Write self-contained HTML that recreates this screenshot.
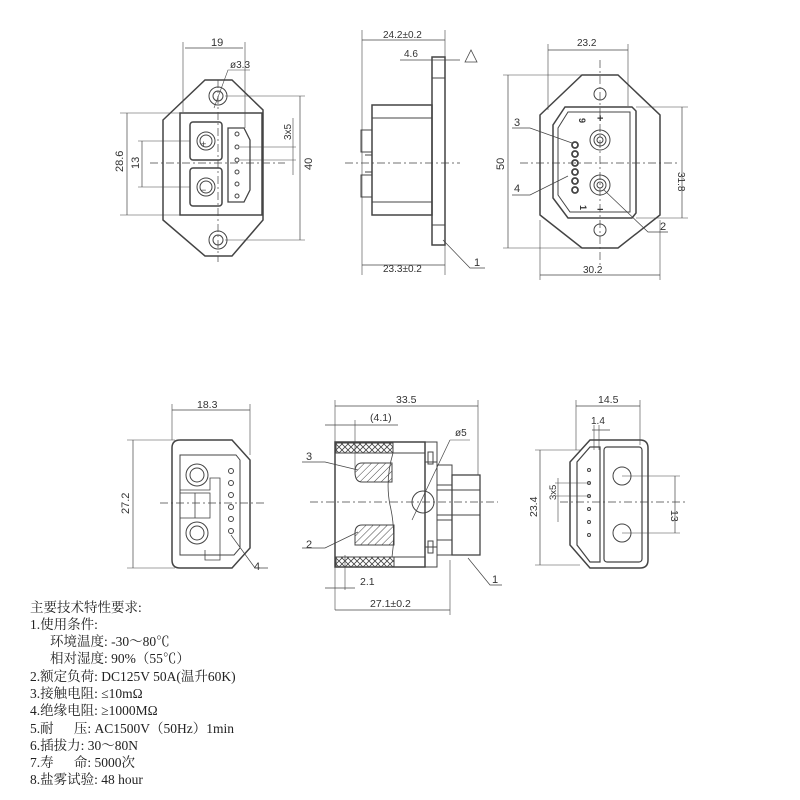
<!DOCTYPE html>
<html><head><meta charset="utf-8"><style>
html,body{margin:0;padding:0;background:#fff;}
svg{display:block}
.t{font-family:"Liberation Sans","DejaVu Sans",sans-serif;font-size:11px;fill:#333}
.c{font-family:"Liberation Serif","Noto Serif CJK SC",serif;font-size:13.5px;fill:#222;white-space:pre}
</style></head><body>
<svg width="800" height="800" viewBox="0 0 800 800" xmlns="http://www.w3.org/2000/svg">
<defs>
<pattern id="h" width="5" height="5" patternUnits="userSpaceOnUse" patternTransform="rotate(45)"><line x1="0" y1="0" x2="0" y2="5" stroke="#444" stroke-width="1"/></pattern>
<pattern id="x" width="6" height="6" patternUnits="userSpaceOnUse"><path d="M0 0L6 6M6 0L0 6" stroke="#444" stroke-width="0.8"/></pattern>
<marker id="a" markerWidth="6" markerHeight="6" refX="5" refY="3" orient="auto"><path d="M0 1.5L6 3L0 4.5z" fill="#444"/></marker>
</defs>
<g stroke="#444" stroke-width="1" fill="none">
<path d="M163 120 L205 80 L232 80 L263 110 L263 220 L232 256 L205 256 L163 220 Z" stroke-width="1.5"/>
<circle cx="218" cy="96" r="9"/><circle cx="218" cy="96" r="5"/>
<circle cx="218" cy="240" r="9"/><circle cx="218" cy="240" r="5"/>
<rect x="180" y="113" width="82" height="102" stroke-width="1.5"/>
<rect x="190" y="122" width="32" height="38" rx="3" stroke-width="1.5"/>
<rect x="190" y="168" width="32" height="38" rx="3" stroke-width="1.5"/>
<circle cx="206" cy="141" r="9"/><circle cx="206" cy="141" r="6"/>
<circle cx="206" cy="187" r="9"/><circle cx="206" cy="187" r="6"/>
<path d="M228 128 L244 128 L250 140 L250 190 L244 202 L228 202 Z" stroke-width="1.3"/>
<g><circle cx="237" cy="134" r="2"/><circle cx="237" cy="147" r="2"/><circle cx="237" cy="160" r="2"/><circle cx="237" cy="172" r="2"/><circle cx="237" cy="184" r="2"/><circle cx="237" cy="196" r="2"/></g>
<line x1="150" y1="163" x2="285" y2="163" stroke-dasharray="8 3 2 3" stroke-width="0.7"/>
<line x1="218" y1="80" x2="218" y2="262" stroke-dasharray="8 3 2 3" stroke-width="0.7"/>
<line x1="183" y1="42" x2="183" y2="112" stroke-width="0.6"/><line x1="245" y1="42" x2="245" y2="128" stroke-width="0.6"/>
<line x1="185" y1="48" x2="243" y2="48" stroke-width="0.7"/>
<line x1="127" y1="113" x2="127" y2="215" stroke-width="0.7"/>
<line x1="120" y1="113" x2="180" y2="113" stroke-width="0.6"/><line x1="120" y1="215" x2="180" y2="215" stroke-width="0.6"/>
<line x1="142" y1="141" x2="142" y2="187" stroke-width="0.7"/>
<line x1="138" y1="141" x2="190" y2="141" stroke-width="0.6"/><line x1="138" y1="187" x2="190" y2="187" stroke-width="0.6"/>
<line x1="300" y1="96" x2="300" y2="240" stroke-width="0.7"/>
<line x1="225" y1="96" x2="305" y2="96" stroke-width="0.6"/><line x1="225" y1="240" x2="305" y2="240" stroke-width="0.6"/>
<line x1="293" y1="118" x2="293" y2="175" stroke-width="0.6"/>
<line x1="240" y1="147" x2="296" y2="147" stroke-width="0.6"/><line x1="240" y1="160" x2="296" y2="160" stroke-width="0.6"/>
<path d="M214 108 L228 70 L250 70" stroke-width="0.6"/>
<rect x="432" y="57" width="13" height="188" stroke-width="1.5"/>
<line x1="432" y1="78" x2="445" y2="78"/><line x1="432" y1="225" x2="445" y2="225"/>
<rect x="372" y="105" width="60" height="110" stroke-width="1.5"/>
<line x1="372" y1="118" x2="432" y2="118"/><line x1="372" y1="202" x2="432" y2="202"/>
<rect x="361" y="130" width="11" height="22"/><rect x="361" y="175" width="11" height="22"/>
<line x1="365" y1="155" x2="372" y2="155"/><line x1="365" y1="172" x2="372" y2="172"/>
<line x1="345" y1="163" x2="460" y2="163" stroke-dasharray="8 3 2 3" stroke-width="0.7"/>
<line x1="362" y1="30" x2="362" y2="275" stroke-width="0.6"/><line x1="445" y1="30" x2="445" y2="275" stroke-width="0.6"/>
<line x1="362" y1="40" x2="445" y2="40" stroke-width="0.7"/>
<line x1="400" y1="60" x2="460" y2="60" stroke-width="0.7"/>
<line x1="362" y1="265" x2="445" y2="265" stroke-width="0.7"/>
<path d="M443 240 L470 268 L485 268" stroke-width="0.7"/>
<path d="M465 62 L471 50 L477 62 Z" stroke-width="0.8"/>
<path d="M540 115 L582 75 L618 75 L660 115 L660 215 L618 248 L582 248 L540 215 Z" stroke-width="1.5"/>
<circle cx="600" cy="94" r="6"/><circle cx="600" cy="230" r="6"/>
<path d="M565 107 L632 107 L636 111 L636 213 L632 218 L568 218 L553 198 L553 125 Z" stroke-width="1.5"/>
<path d="M568 112 L630 112 L630 212 L570 212 L558 195 L558 128 Z"/>
<circle cx="600" cy="140" r="10"/><circle cx="600" cy="140" r="6"/><circle cx="600" cy="140" r="3"/>
<circle cx="600" cy="185" r="10"/><circle cx="600" cy="185" r="6"/><circle cx="600" cy="185" r="3"/>
<g stroke-width="1.8"><circle cx="575" cy="145" r="3"/><circle cx="575" cy="154" r="3"/><circle cx="575" cy="163" r="3"/><circle cx="575" cy="172" r="3"/><circle cx="575" cy="181" r="3"/><circle cx="575" cy="190" r="3"/></g>
<line x1="520" y1="163" x2="680" y2="163" stroke-dasharray="8 3 2 3" stroke-width="0.7"/>
<line x1="600" y1="60" x2="600" y2="265" stroke-dasharray="8 3 2 3" stroke-width="0.7"/>
<line x1="548" y1="50" x2="628" y2="50" stroke-width="0.7"/>
<line x1="548" y1="44" x2="548" y2="110" stroke-width="0.6"/><line x1="628" y1="44" x2="628" y2="106" stroke-width="0.6"/>
<line x1="508" y1="75" x2="508" y2="248" stroke-width="0.7"/>
<line x1="503" y1="75" x2="590" y2="75" stroke-width="0.6"/><line x1="503" y1="248" x2="590" y2="248" stroke-width="0.6"/>
<line x1="682" y1="107" x2="682" y2="218" stroke-width="0.7"/>
<line x1="636" y1="107" x2="688" y2="107" stroke-width="0.6"/><line x1="636" y1="218" x2="688" y2="218" stroke-width="0.6"/>
<line x1="540" y1="275" x2="660" y2="275" stroke-width="0.7"/>
<line x1="540" y1="220" x2="540" y2="280" stroke-width="0.6"/><line x1="660" y1="220" x2="660" y2="280" stroke-width="0.6"/>
<path d="M512 128 L530 128 L572 143" stroke-width="0.7"/>
<path d="M512 195 L530 195 L568 176" stroke-width="0.7"/>
<path d="M604 190 L648 232 L668 232" stroke-width="0.7"/>
<path d="M180 440 L232 440 L250 460 L250 548 L232 568 L180 568 Q172 568 172 560 L172 448 Q172 440 180 440 Z" stroke-width="1.5"/>
<path d="M180 455 L236 455 L240 460 L240 548 L234 555 L180 555 Z"/>
<circle cx="197" cy="475" r="11"/><circle cx="197" cy="475" r="7"/>
<circle cx="197" cy="533" r="11"/><circle cx="197" cy="533" r="7"/>
<path d="M180 490 L210 490 L210 478 L220 478 L220 560 L205 560 L205 550" stroke-width="0.8"/>
<rect x="180" y="493" width="30" height="25" stroke-width="0.8"/><line x1="195" y1="493" x2="195" y2="518" stroke-width="0.8"/>
<g><circle cx="231" cy="471" r="2.5"/><circle cx="231" cy="483" r="2.5"/><circle cx="231" cy="495" r="2.5"/><circle cx="231" cy="507" r="2.5"/><circle cx="231" cy="519" r="2.5"/><circle cx="231" cy="531" r="2.5"/></g>
<line x1="160" y1="503" x2="265" y2="503" stroke-dasharray="8 3 2 3" stroke-width="0.7"/>
<line x1="172" y1="410" x2="250" y2="410" stroke-width="0.7"/>
<line x1="172" y1="404" x2="172" y2="440" stroke-width="0.6"/><line x1="250" y1="404" x2="250" y2="455" stroke-width="0.6"/>
<line x1="133" y1="440" x2="133" y2="568" stroke-width="0.7"/>
<line x1="127" y1="440" x2="175" y2="440" stroke-width="0.6"/><line x1="127" y1="568" x2="175" y2="568" stroke-width="0.6"/>
<path d="M231 535 L255 568 L268 568" stroke-width="0.7"/>
<rect x="335" y="442" width="90" height="125" stroke-width="1.5"/>
<rect x="336" y="443" width="57" height="10" fill="url(#x)"/>
<rect x="336" y="557" width="58" height="10" fill="url(#x)"/>
<line x1="393" y1="453" x2="425" y2="453"/><line x1="393" y1="557" x2="425" y2="557"/>
<path d="M393 453 Q385 480 390 505 Q396 530 392 557" stroke-width="0.8"/>
<path d="M362 463 L392 463 L392 482 L362 482 Q355 482 355 472 Q355 463 362 463 Z" fill="url(#h)"/>
<path d="M362 525 L394 525 L394 545 L355 545 L355 533 Q355 525 362 525 Z" fill="url(#h)"/>
<circle cx="423" cy="502" r="11"/>
<rect x="425" y="442" width="12" height="20"/><rect x="425" y="547" width="12" height="20"/>
<rect x="428" y="452" width="5" height="12"/><rect x="428" y="541" width="5" height="12"/>
<line x1="425" y1="462" x2="425" y2="547"/><line x1="437" y1="462" x2="437" y2="547"/>
<rect x="437" y="465" width="15" height="20"/><rect x="437" y="520" width="15" height="20"/>
<rect x="452" y="475" width="28" height="80" stroke-width="1.3"/>
<line x1="437" y1="490" x2="480" y2="490"/><line x1="437" y1="515" x2="480" y2="515"/>
<line x1="437" y1="555" x2="480" y2="555"/>
<line x1="310" y1="502" x2="498" y2="502" stroke-dasharray="8 3 2 3" stroke-width="0.7"/>
<line x1="335" y1="400" x2="335" y2="610" stroke-width="0.6"/><line x1="478" y1="400" x2="478" y2="475" stroke-width="0.6"/>
<line x1="335" y1="406" x2="478" y2="406" stroke-width="0.7"/>
<line x1="325" y1="425" x2="398" y2="425" stroke-width="0.7"/><line x1="355" y1="420" x2="355" y2="470" stroke-width="0.6"/>
<line x1="412" y1="520" x2="450" y2="440" stroke-width="0.7"/><line x1="450" y1="440" x2="470" y2="440" stroke-width="0.6"/>
<line x1="345" y1="555" x2="345" y2="590" stroke-width="0.6"/>
<line x1="325" y1="588" x2="355" y2="588" stroke-width="0.7"/>
<line x1="335" y1="610" x2="450" y2="610" stroke-width="0.7"/><line x1="450" y1="560" x2="450" y2="615" stroke-width="0.6"/>
<path d="M302 462 L325 462 L358 470" stroke-width="0.7"/>
<path d="M302 548 L325 548 L358 532" stroke-width="0.7"/>
<path d="M468 558 L490 585 L502 585" stroke-width="0.7"/>
<path d="M590 440 L640 440 Q648 440 648 448 L648 560 Q648 568 640 568 L590 568 L570 545 L570 462 Z" stroke-width="1.5"/>
<path d="M590 447 L600 447 L600 562 L590 562 L577 545 L577 462 Z" stroke-width="1.2"/>
<rect x="604" y="447" width="38" height="115" rx="3" stroke-width="1.2"/>
<circle cx="622" cy="476" r="9"/><circle cx="622" cy="533" r="9"/>
<g><circle cx="589" cy="470" r="1.5"/><circle cx="589" cy="483" r="1.5"/><circle cx="589" cy="496" r="1.5"/><circle cx="589" cy="509" r="1.5"/><circle cx="589" cy="522" r="1.5"/><circle cx="589" cy="535" r="1.5"/></g>
<line x1="560" y1="502" x2="685" y2="502" stroke-dasharray="8 3 2 3" stroke-width="0.7"/>
<line x1="576" y1="406" x2="640" y2="406" stroke-width="0.7"/>
<line x1="576" y1="400" x2="576" y2="450" stroke-width="0.6"/><line x1="640" y1="400" x2="640" y2="445" stroke-width="0.6"/>
<line x1="592" y1="430" x2="610" y2="430" stroke-width="0.7"/>
<line x1="594" y1="425" x2="594" y2="450" stroke-width="0.6"/><line x1="599" y1="425" x2="599" y2="450" stroke-width="0.6"/>
<line x1="540" y1="450" x2="540" y2="565" stroke-width="0.7"/>
<line x1="535" y1="450" x2="580" y2="450" stroke-width="0.6"/><line x1="535" y1="565" x2="580" y2="565" stroke-width="0.6"/>
<line x1="675" y1="476" x2="675" y2="533" stroke-width="0.7"/>
<line x1="622" y1="476" x2="680" y2="476" stroke-width="0.6"/><line x1="622" y1="533" x2="680" y2="533" stroke-width="0.6"/>
<line x1="558" y1="478" x2="558" y2="522" stroke-width="0.6"/>
<line x1="555" y1="483" x2="590" y2="483" stroke-width="0.6"/><line x1="555" y1="496" x2="590" y2="496" stroke-width="0.6"/>
</g>
<g class="t">
<text x="211" y="46">19</text>
<text x="230" y="68" font-size="10">ø3.3</text>
<text transform="translate(123,172) rotate(-90)">28.6</text>
<text transform="translate(139,169) rotate(-90)">13</text>
<text transform="translate(312,170) rotate(-90)">40</text>
<text transform="translate(291,140) rotate(-90)" font-size="10">3x5</text>
<text x="201" y="147" font-size="9">+</text><text x="201" y="193" font-size="9">−</text>
<text x="383" y="38" font-size="10">24.2±0.2</text>
<text x="404" y="57" font-size="10">4.6</text>
<text x="383" y="272" font-size="10">23.3±0.2</text>
<text x="474" y="266">1</text>
<text x="577" y="46" font-size="10">23.2</text>
<text transform="translate(504,170) rotate(-90)">50</text>
<text transform="translate(678,172) rotate(90)" font-size="10">31.8</text>
<text x="583" y="273" font-size="10">30.2</text>
<text x="514" y="126">3</text><text x="514" y="192">4</text><text x="660" y="230">2</text>
<text transform="translate(579,118) rotate(90)" font-size="9" font-weight="bold">9</text>
<text x="597" y="122" font-size="11" font-weight="bold">+</text>
<text transform="translate(580,205) rotate(90)" font-size="9" font-weight="bold">1</text>
<text x="597" y="213" font-size="11" font-weight="bold">−</text>
<text x="197" y="408" font-size="10.5">18.3</text>
<text transform="translate(129,514) rotate(-90)">27.2</text>
<text x="254" y="570">4</text>
<text x="396" y="403" font-size="10.5">33.5</text>
<text x="370" y="421" font-size="10.5">(4.1)</text>
<text x="455" y="436" font-size="10">ø5</text>
<text x="306" y="460">3</text><text x="306" y="548">2</text><text x="492" y="583">1</text>
<text x="360" y="585" font-size="10.5">2.1</text>
<text x="370" y="607" font-size="10.5">27.1±0.2</text>
<text x="598" y="403" font-size="10.5">14.5</text>
<text x="591" y="424" font-size="10">1.4</text>
<text transform="translate(537,517) rotate(-90)" font-size="10.5">23.4</text>
<text transform="translate(671,510) rotate(90)" font-size="10.5">13</text>
<text transform="translate(556,500) rotate(-90)" font-size="9.5">3x5</text>
</g>
<g class="c">
<text x="30" y="612">主要技术特性要求:</text>
<text x="30" y="629">1.使用条件:</text>
<text x="50" y="646">环境温度: -30～80℃</text>
<text x="50" y="663">相对湿度: 90%（55℃）</text>
<text x="30" y="681">2.额定负荷: DC125V 50A(温升60K)</text>
<text x="30" y="698">3.接触电阻: ≤10mΩ</text>
<text x="30" y="715">4.绝缘电阻: ≥1000MΩ</text>
<text x="30" y="733">5.耐&#160;&#160;&#160;&#160;&#160;&#160;压: AC1500V（50Hz）1min</text>
<text x="30" y="750">6.插拔力: 30～80N</text>
<text x="30" y="767">7.寿&#160;&#160;&#160;&#160;&#160;&#160;命: 5000次</text>
<text x="30" y="784">8.盐雾试验: 48 hour</text>
</g>
</svg>
</body></html>
